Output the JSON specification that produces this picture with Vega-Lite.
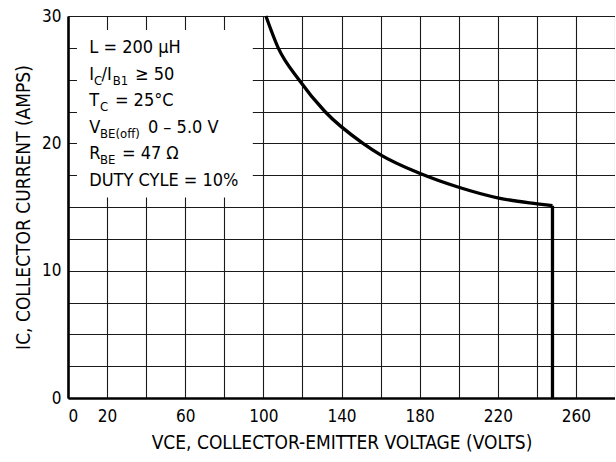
{
  "$schema": "https://vega.github.io/schema/vega-lite/v6.json",
  "width": 547,
  "height": 382,
  "autosize": {"type": "none"},
  "padding": {"left": 68, "top": 16, "right": 0, "bottom": 64},
  "background": "white",
  "config": {
    "font": "DejaVu Sans Condensed, sans-serif",
    "view": {"stroke": null}
  },
  "datasets": {
    "curve": [
      {"v": 101.3, "i": 30.0},
      {"v": 107.6, "i": 27.5},
      {"v": 118.2, "i": 25.0},
      {"v": 131.5, "i": 22.5},
      {"v": 151, "i": 20.0},
      {"v": 160, "i": 19.1},
      {"v": 180, "i": 17.65},
      {"v": 200, "i": 16.55},
      {"v": 220.5, "i": 15.7},
      {"v": 240.2, "i": 15.25},
      {"v": 248, "i": 15.1}
    ],
    "drop": [{"v": 248, "i": 0, "i2": 15.1}],
    "box": [{"v": 4.6, "v2": 94.6, "i": 15.75, "i2": 28.9}],
    "ann": [
      {"v": 10.9, "i": 27.47, "t": "L = 200 μH", "r": "main"},
      {"v": 10.9, "i": 25.38, "t": "I", "r": "main"},
      {"v": 13.3, "i": 25.38, "t": "C", "r": "sub"},
      {"v": 17.2, "i": 25.38, "t": "/I", "r": "main"},
      {"v": 22.9, "i": 25.38, "t": "B1", "r": "sub"},
      {"v": 34.3, "i": 25.38, "t": "≥ 50", "r": "main"},
      {"v": 10.9, "i": 23.29, "t": "T", "r": "main"},
      {"v": 16.4, "i": 23.29, "t": "C", "r": "sub"},
      {"v": 24.0, "i": 23.29, "t": "= 25°C", "r": "main"},
      {"v": 10.9, "i": 21.2, "t": "V", "r": "main"},
      {"v": 16.4, "i": 21.2, "t": "BE(off)", "r": "sub"},
      {"v": 40.9, "i": 21.2, "t": "0 – 5.0 V", "r": "main"},
      {"v": 10.9, "i": 19.19, "t": "R", "r": "main"},
      {"v": 16.4, "i": 19.19, "t": "BE", "r": "sub"},
      {"v": 27.6, "i": 19.19, "t": "= 47 Ω", "r": "main"},
      {"v": 10.9, "i": 17.02, "t": "DUTY CYLE = 10%", "r": "main"}
    ]
  },
  "encoding": {
    "x": {
      "field": "v", "type": "quantitative",
      "title": "VCE, COLLECTOR-EMITTER VOLTAGE (VOLTS)",
      "scale": {"domain": [0, 280], "nice": false, "zero": false},
      "axis": {
        "values": [0, 20, 40, 60, 80, 100, 120, 140, 160, 180, 200, 220, 240, 260, 280],
        "labelExpr": "datum.value == 40 || datum.value == 80 || datum.value == 120 || datum.value == 160 || datum.value == 200 || datum.value == 240 || datum.value == 280 ? '' : datum.label",
        "labelOverlap": false,
        "grid": true, "gridColor": "#1a1a1a", "gridWidth": 1.1, "gridOpacity": 1,
        "domain": true, "domainColor": "black", "domainWidth": 2.6,
        "ticks": false, "labelPadding": 10, "labelFontSize": 17, "labelColor": "black",
        "labelFlush": true,
        "titleFontSize": 19, "titleFontWeight": "normal", "titleColor": "black",
        "titlePadding": 9
      }
    },
    "y": {
      "field": "i", "type": "quantitative",
      "title": "IC, COLLECTOR CURRENT (AMPS)",
      "scale": {"domain": [0, 30], "nice": false, "zero": false},
      "axis": {
        "values": [0, 2.5, 5, 7.5, 10, 12.5, 15, 17.5, 20, 22.5, 25, 27.5, 30],
        "labelExpr": "datum.value % 10 == 0 ? datum.label : ''",
        "labelOverlap": false,
        "grid": true, "gridColor": "#1a1a1a", "gridWidth": 1.1, "gridOpacity": 1,
        "domain": true, "domainColor": "black", "domainWidth": 2.6,
        "ticks": false, "labelPadding": 7, "labelFontSize": 17, "labelColor": "black",
        "titleFontSize": 19, "titleFontWeight": "normal", "titleColor": "black",
        "titlePadding": 8
      }
    }
  },
  "layer": [
    {
      "data": {"name": "box"},
      "mark": {"type": "rect", "fill": "white", "stroke": null},
      "encoding": {
        "x2": {"field": "v2"},
        "y2": {"field": "i2"}
      }
    },
    {
      "data": {"name": "ann"},
      "transform": [{"filter": "datum.r == 'main'"}],
      "mark": {"type": "text", "align": "left", "baseline": "middle", "fontSize": 18, "color": "black"},
      "encoding": {
        "text": {"field": "t"}
      }
    },
    {
      "data": {"name": "ann"},
      "transform": [{"filter": "datum.r == 'sub'"}],
      "mark": {"type": "text", "align": "left", "baseline": "middle", "fontSize": 13, "dy": 6, "color": "black"},
      "encoding": {
        "text": {"field": "t"}
      }
    },
    {
      "data": {"name": "curve"},
      "mark": {"type": "line", "color": "black", "strokeWidth": 3.3, "interpolate": "monotone"},
      "encoding": {}
    },
    {
      "data": {"name": "drop"},
      "mark": {"type": "rule", "color": "black", "strokeWidth": 3.3},
      "encoding": {
        "y2": {"field": "i2"}
      }
    }
  ]
}
